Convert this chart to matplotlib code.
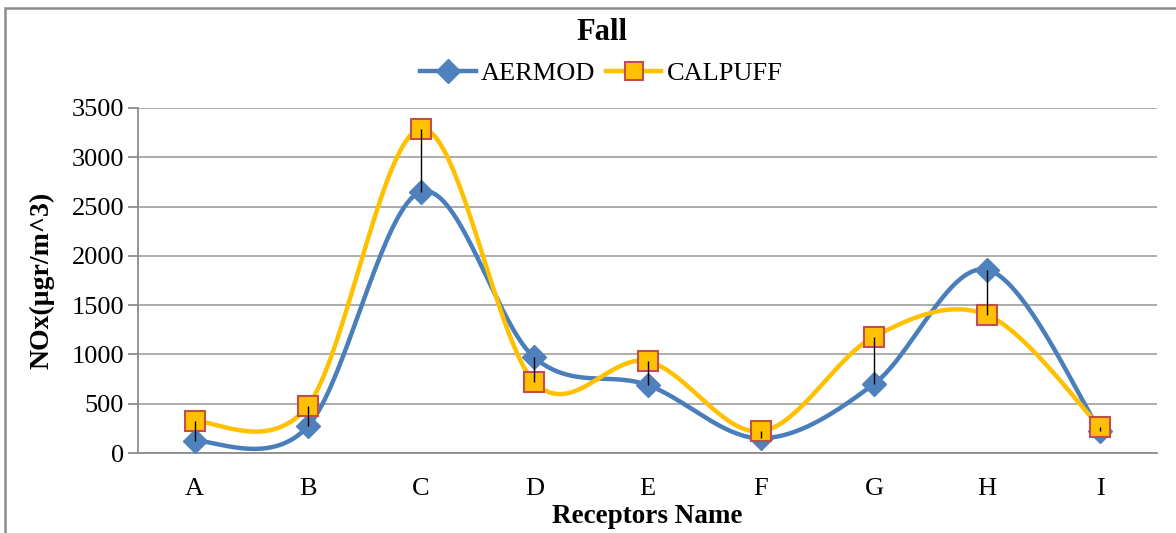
import numpy as np
import matplotlib
matplotlib.use("Agg")
import matplotlib.pyplot as plt
from matplotlib.lines import Line2D
from matplotlib.patches import Rectangle

categories = ["A", "B", "C", "D", "E", "F", "G", "H", "I"]
aermod = [120, 270, 2650, 970, 690, 150, 700, 1860, 220]
calpuff = [320, 480, 3290, 720, 930, 220, 1180, 1400, 260]
yticks = [0, 500, 1000, 1500, 2000, 2500, 3000, 3500]


def excel_smooth(x, y, n=40):
    """Cubic Bezier smoothing similar to Excel's smoothed line."""
    x = np.asarray(x, float)
    y = np.asarray(y, float)
    px = np.concatenate([[x[0]], x, [x[-1]]])
    py = np.concatenate([[y[0]], y, [y[-1]]])
    xs, ys = [], []
    t = np.linspace(0, 1, n)
    for i in range(1, len(px) - 2):
        p0 = np.array([px[i], py[i]])
        p3 = np.array([px[i + 1], py[i + 1]])
        c1 = p0 + (np.array([px[i + 1], py[i + 1]]) - np.array([px[i - 1], py[i - 1]])) / 6.0
        c2 = p3 - (np.array([px[i + 2], py[i + 2]]) - np.array([px[i], py[i]])) / 6.0
        b = ((1 - t) ** 3)[:, None] * p0 + (3 * (1 - t) ** 2 * t)[:, None] * c1 \
            + (3 * (1 - t) * t ** 2)[:, None] * c2 + (t ** 3)[:, None] * p3
        xs.append(b[:, 0])
        ys.append(b[:, 1])
    return np.concatenate(xs), np.concatenate(ys)


plt.rcParams['font.family'] = ['Liberation Serif', 'DejaVu Serif']

fig = plt.figure(figsize=(11.76, 5.33), dpi=100)
fig.patches.append(Rectangle((5 / 1176, -0.1), 1.2, 1.1 - 8.5 / 533, transform=fig.transFigure,
                             fill=False, edgecolor='#8c8c8c', linewidth=1.8))

ax = fig.add_axes([138 / 1176, 1 - 453 / 533, (1157 - 138) / 1176, (453 - 108) / 533])

x = np.arange(len(categories))
blue = '#4A7EBB'
gold = '#FFC000'

sx, sy = excel_smooth(x, aermod)
ax.plot(sx, sy, color=blue, lw=3.2, zorder=3, solid_capstyle='round')
sx, sy = excel_smooth(x, calpuff)
ax.plot(sx, sy, color=gold, lw=3.2, zorder=3, solid_capstyle='round')

ax.plot(x, aermod, linestyle='none', marker='D', markersize=12, color='#4F81BD',
        markeredgecolor='#4F81BD', zorder=4)
ax.plot(x, calpuff, linestyle='none', marker='s', markersize=14, color=gold,
        markeredgecolor='#C0504D', markeredgewidth=1.5, zorder=5)

lo = np.minimum(aermod, calpuff)
hi = np.maximum(aermod, calpuff)
ax.vlines(x, lo, hi, color='black', lw=1.0, zorder=6)

ax.set_xlim(-0.5, len(categories) - 0.5)
ax.set_ylim(0, 3500)
ax.set_yticks(yticks)
ax.set_yticklabels([str(v) for v in yticks])
ax.set_xticks(x)
ax.set_xticklabels(categories)
ax.yaxis.grid(True, color='#a6a6a6', lw=1.3)
ax.set_axisbelow(True)
for s in ['top', 'right']:
    ax.spines[s].set_visible(False)
for s in ['left', 'bottom']:
    ax.spines[s].set_color('#8c8c8c')
    ax.spines[s].set_linewidth(1.3)
ax.tick_params(axis='y', length=7, color='#8c8c8c', width=1.3, labelsize=19, pad=3)
ax.tick_params(axis='x', length=0, labelsize=19, pad=18)

ax.set_ylabel('NOx(µgr/m^3)', fontsize=20, fontweight='bold', labelpad=12)
ax.set_xlabel('Receptors Name', fontsize=19.5, fontweight='bold', labelpad=3)

fig.text(0.5115, 1 - 32 / 533, 'Fall', ha='center', va='center', fontsize=22, fontweight='bold')

handles = [
    Line2D([], [], color=blue, lw=3.2, marker='D', markersize=12, markerfacecolor='#4F81BD',
           markeredgecolor='#4F81BD'),
    Line2D([], [], color=gold, lw=3.2, marker='s', markersize=13, markerfacecolor=gold,
           markeredgecolor='#C0504D', markeredgewidth=1.5),
]
fig.legend(handles, ['AERMOD', 'CALPUFF'], loc='center', bbox_to_anchor=(0.5115, 1 - 73 / 533),
           ncol=2, frameon=False, fontsize=19, handlelength=2.1, handletextpad=0.2,
           columnspacing=0.4)

fig.savefig('out.png', dpi=100)
